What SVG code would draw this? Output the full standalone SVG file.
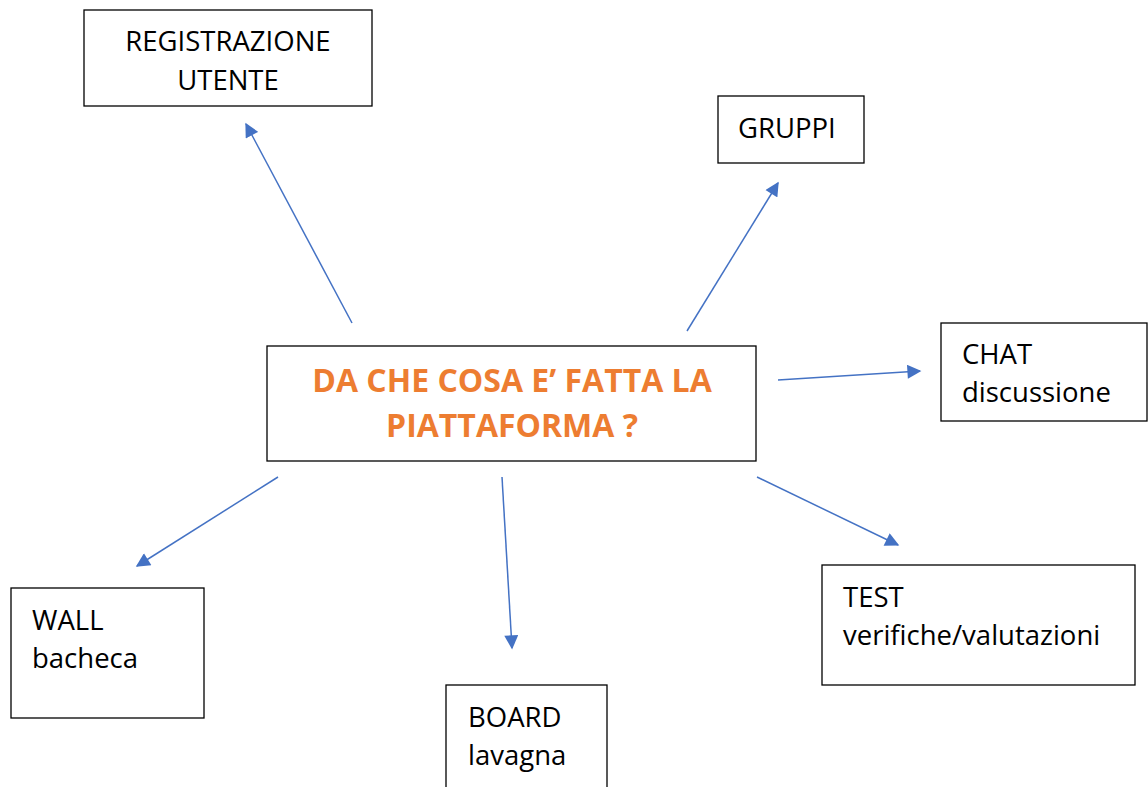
<svg xmlns="http://www.w3.org/2000/svg" width="1148" height="787" viewBox="0 0 1148 787">
<style>
.box{fill:#fff;stroke:#000;stroke-width:1.3}
.t{font-family:"Open Sans","Liberation Sans",Arial,sans-serif;font-size:27.5px;fill:#000}
.c{font-family:"Open Sans","Liberation Sans",Arial,sans-serif;font-size:32px;font-weight:bold;fill:#ED7D31}
.e{stroke:#4472C4;stroke-width:1.5;fill:none;marker-end:url(#ah)}
</style>
<defs>
<marker id="ah" viewBox="0 0 10 10" refX="9" refY="5" markerWidth="15" markerHeight="14" markerUnits="userSpaceOnUse" orient="auto">
<path d="M0,0 L10,5 L0,10 z" fill="#4472C4"/>
</marker>
</defs>
<rect width="1148" height="787" fill="#fff"/>
<g id="connectors">
<line class="e" x1="352" y1="323" x2="246" y2="124"/>
<line class="e" x1="687" y1="331" x2="778" y2="183"/>
<line class="e" x1="778" y1="380" x2="920" y2="371"/>
<line class="e" x1="278" y1="477" x2="137" y2="566"/>
<line class="e" x1="502" y1="477" x2="512" y2="648"/>
<line class="e" x1="757" y1="477" x2="898" y2="545"/>
</g>
<g id="registrazione">
<rect class="box" x="84" y="10" width="288" height="96"/>
<text class="t" x="228" y="51" text-anchor="middle">REGISTRAZIONE</text>
<text class="t" x="228" y="90" text-anchor="middle">UTENTE</text>
</g>
<g id="gruppi">
<rect class="box" x="718" y="96" width="146" height="67"/>
<text class="t" x="738" y="138">GRUPPI</text>
</g>
<g id="chat">
<rect class="box" x="941" y="323" width="206" height="98"/>
<text class="t" x="962" y="364">CHAT</text>
<text class="t" x="962" y="402">discussione</text>
</g>
<g id="center">
<rect class="box" x="267" y="346" width="489" height="115"/>
<text class="c" x="512" y="392" text-anchor="middle">DA CHE COSA E’ FATTA LA</text>
<text class="c" x="512" y="437" text-anchor="middle">PIATTAFORMA ?</text>
</g>
<g id="wall">
<rect class="box" x="11" y="588" width="193" height="130"/>
<text class="t" x="32" y="630">WALL</text>
<text class="t" x="32" y="668">bacheca</text>
</g>
<g id="board">
<rect class="box" x="446" y="685" width="161" height="110"/>
<text class="t" x="468" y="727">BOARD</text>
<text class="t" x="468" y="765">lavagna</text>
</g>
<g id="test">
<rect class="box" x="822" y="565" width="313" height="120"/>
<text class="t" x="843" y="607">TEST</text>
<text class="t" x="843" y="645">verifiche/valutazioni</text>
</g>
</svg>
